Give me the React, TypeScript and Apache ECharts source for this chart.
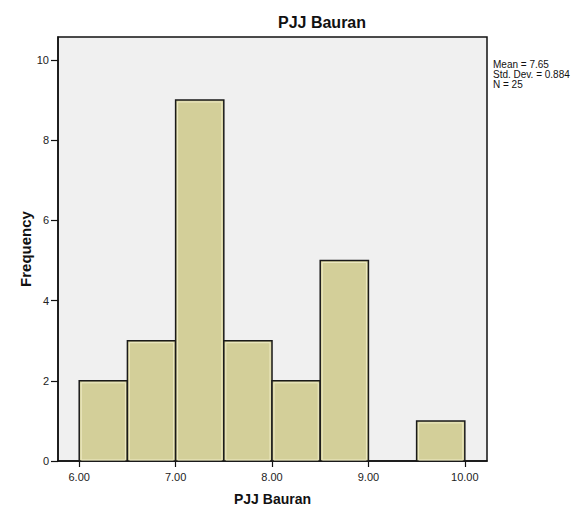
import React, { useEffect, useRef } from "react";
import * as echarts from "echarts";

const chartTitle = "PJJ Bauran";
const xAxisName = "PJJ Bauran";
const yAxisName = "Frequency";
const binEdges = [6.0, 6.5, 7.0, 7.5, 8.0, 8.5, 9.0, 9.5, 10.0];
const frequencies = [2, 3, 9, 3, 2, 5, 0, 1];
const xTickValues = [6, 7, 8, 9, 10];
const yTickValues = [0, 2, 4, 6, 8, 10];
const statsLines = ["Mean = 7.65", "Std. Dev. = 0.884", "N = 25"];

const FONT = "'Liberation Sans', Arial, sans-serif";

export default function App() {
  const ref = useRef<HTMLDivElement>(null);
  useEffect(() => {
    if (!ref.current) return;
    const chart = echarts.init(ref.current, null, { renderer: "svg" });
    const data = frequencies.map((f, i) => [binEdges[i], binEdges[i + 1], f]);
    chart.setOption({
      animation: false,
      backgroundColor: "#ffffff",
      textStyle: { fontFamily: FONT },
      title: {
        text: chartTitle,
        left: 278,
        top: 14,
        padding: 0,
        textStyle: { fontSize: 16, fontWeight: "bold", color: "#111", fontFamily: FONT },
      },
      grid: {
        left: 58,
        top: 37,
        right: 100,
        bottom: 45,
        show: true,
        backgroundColor: "#f0f0f0",
        borderColor: "#111",
        borderWidth: 1.5,
        containLabel: false,
        outerBoundsMode: "none",
      },
      xAxis: {
        type: "value",
        min: 5.78,
        max: 10.23,
        name: xAxisName,
        nameLocation: "middle",
        nameGap: 31,
        nameMoveOverlap: false,
        nameTextStyle: { fontSize: 14, fontWeight: "bold", color: "#111", fontFamily: FONT },
        axisLine: { show: true, lineStyle: { color: "#111", width: 1.5 } },
        axisTick: { show: true, length: 6, customValues: xTickValues, lineStyle: { color: "#111", width: 1.2 } },
        axisLabel: {
          customValues: xTickValues,
          margin: 10,
          fontSize: 11,
          color: "#222",
          fontFamily: FONT,
          formatter: (v: number) => v.toFixed(2),
        },
        splitLine: { show: false },
      },
      yAxis: {
        type: "value",
        min: 0,
        max: 10.57,
        name: yAxisName,
        nameLocation: "middle",
        nameGap: 25,
        nameMoveOverlap: false,
        nameRotate: 90,
        nameTextStyle: { fontSize: 15, fontWeight: "bold", color: "#111", fontFamily: FONT },
        axisLine: { show: true, lineStyle: { color: "#111", width: 1.5 } },
        axisTick: { show: true, length: 7, customValues: yTickValues, lineStyle: { color: "#111", width: 1.2 } },
        axisLabel: { customValues: yTickValues, margin: 9, fontSize: 11, color: "#222", fontFamily: FONT },
        splitLine: { show: false },
      },
      graphic: [
        {
          type: "text",
          left: 493,
          top: 59,
          style: {
            text: statsLines.join("\n"),
            font: `10px ${FONT}`,
            lineHeight: 10,
            fill: "#111",
          },
        },
      ],
      series: [
        {
          type: "custom",
          data,
          encode: { x: [0, 1], y: 2 },
          renderItem: (params: any, api: any) => {
            const c = api.value(2);
            if (!c) return null;
            const p0 = api.coord([api.value(0), c]);
            const p1 = api.coord([api.value(1), 0]);
            const x = p0[0];
            const y = p0[1];
            const w = p1[0] - p0[0];
            const h = p1[1] - p0[1];
            return {
              type: "group",
              children: [
                {
                  type: "rect",
                  shape: { x, y, width: w, height: h },
                  style: { fill: "#d3cf99", stroke: "#1a1a1a", lineWidth: 1.5 },
                },
                {
                  type: "rect",
                  shape: { x: x + 2, y: y + 2, width: w - 4, height: h - 3 },
                  style: { fill: "none", stroke: "#eeeac4", lineWidth: 1 },
                },
              ],
            };
          },
        },
      ],
    });
    return () => chart.dispose();
  }, []);
  return (
    <div
      ref={ref}
      style={{ position: "fixed", left: 0, top: 0, width: 587, height: 506 }}
    />
  );
}
